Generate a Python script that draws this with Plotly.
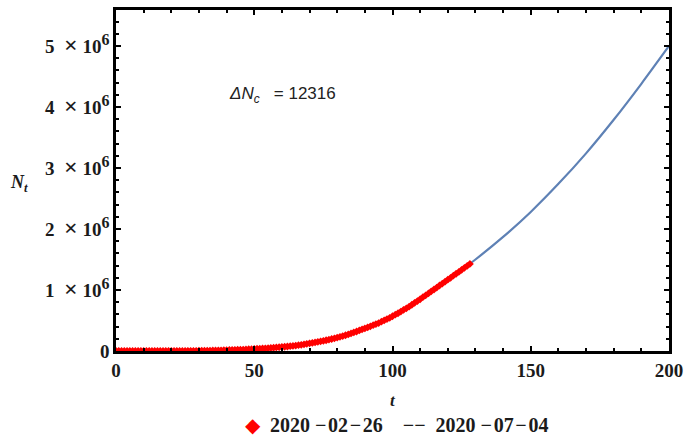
import plotly.graph_objects as go

# Observed data (days since 2020-02-26, cumulative cases)
t_data = list(range(0, 129))
n_data = [
    1, 1, 1, 2, 2, 2, 2, 3, 8, 13,
    19, 25, 30, 40, 50, 100, 120, 200, 230, 300,
    500, 600, 900, 1100, 1500, 1900, 2200, 2400, 2900, 3400,
    3900, 4300, 4600, 5700, 6800, 7900, 9100, 10300, 11200, 12200,
    14000, 16000, 18000, 19600, 20700, 22000, 23400, 25300, 28300, 30400,
    33700, 36600, 38600, 40600, 43100, 45800, 50000, 52900, 58500, 61900,
    66000, 70000, 74000, 79000, 84000, 89000, 95000, 102000, 109000, 117000,
    125000, 133000, 141000, 150000, 158000, 167000, 176000, 186000, 197000, 208000,
    220000, 232000, 245000, 258000, 272000, 288000, 304000, 320000, 338000, 355000,
    370000, 387000, 404000, 424000, 441000, 458000, 480000, 503000, 523000, 544000,
    570000, 596000, 619000, 646000, 675000, 700000, 727000, 758000, 790000, 818000,
    848000, 882000, 912000, 944000, 978000, 1008000, 1040000, 1074000, 1104000, 1136000,
    1170000, 1200000, 1234000, 1266000, 1296000, 1331000, 1364000, 1395000, 1428000,
]

# Fitted model curve
t_fit = [0, 10, 20, 30, 40, 50, 60, 70, 80, 90, 100, 110, 120, 130, 140, 150, 160, 170, 180, 190, 200]
n_fit = [0, 0, 1000, 4000, 12000, 30000, 65000, 125000, 220000, 370000, 570000, 850000,
         1160000, 1500000, 1870000, 2280000, 2740000, 3240000, 3790000, 4380000, 5000000]

y_tickvals = [0, 1e6, 2e6, 3e6, 4e6, 5e6]
y_mant = ["0", "1", "2", "3", "4", "5"]
x_tickvals = [0, 50, 100, 150, 200]
x_ticktext = ["<b>0</b>", "<b>50</b>", "<b>100</b>", "<b>150</b>", "<b>200</b>"]

legend_text = "2020 −&#8202;02&#8202;−&#8202;26&nbsp;&nbsp;&nbsp; −−&nbsp; 2020 −&#8202;07&#8202;−&#8202;04"
annot_text = "<i>ΔN</i><sub><i>c</i></sub> &nbsp;&nbsp;= 12316"

serif = "Liberation Serif"
tick_font = dict(family=serif, size=19, color="#1b1b1b")


def sci_label(m):
    if m == "0":
        return "<b>0</b>"
    return ("<b>" + m + "&nbsp;&nbsp;<span style='font-size:24px;font-weight:bold'>×</span>&nbsp;10</b>"
            "<sup><span style='font-size:16px;font-weight:bold'>6</span></sup>")


y_ticktext = [sci_label(m) for m in y_mant]

fig = go.Figure()
fig.add_trace(go.Scatter(x=t_fit, y=n_fit, mode="lines",
                         line=dict(color="#5E81B5", width=2.2, shape="spline", smoothing=0.8),
                         showlegend=False, hoverinfo="skip"))
fig.add_trace(go.Scatter(x=t_data, y=n_data, mode="markers",
                         marker=dict(symbol="diamond", size=6, color="#ff0000", line=dict(width=0)),
                         showlegend=False))

axis_common = dict(showline=True, linewidth=2.5, linecolor="black", mirror="ticks",
                   ticks="inside", ticklen=5, tickwidth=2, tickcolor="black", automargin=False,
                   showgrid=False, zeroline=False, tickfont=tick_font)

fig.update_xaxes(range=[0, 200], tickmode="array", tickvals=x_tickvals, ticktext=x_ticktext,
                 minor=dict(ticks="inside", dtick=10, ticklen=3, tickwidth=1.5, tickcolor="black"),
                 **axis_common)
fig.update_yaxes(range=[0, 5.59e6], tickmode="array", tickvals=y_tickvals, ticktext=y_ticktext,
                 minor=dict(ticks="inside", dtick=2e5, ticklen=3, tickwidth=1.5, tickcolor="black"),
                 **axis_common)

fig.add_annotation(text="<b><i>N</i></b><sub><b><i>t</i></b></sub>", xref="paper", yref="paper",
                   x=-0.175, y=0.49, xanchor="center", yanchor="middle", showarrow=False,
                   font=dict(family=serif, size=18, color="#1b1b1b"))
fig.add_annotation(text="<b><i>t</i></b>", xref="paper", yref="paper", x=0.5, y=-0.144,
                   xanchor="center", yanchor="middle",
                   showarrow=False, font=dict(family=serif, size=17, color="#1b1b1b"))
fig.add_annotation(text="<span style='color:#ff0000'>◆</span> &nbsp;<b>" + legend_text + "</b>",
                   xref="paper", yref="paper", x=0.507, y=-0.217, xanchor="center", yanchor="middle",
                   showarrow=False, font=dict(family=serif, size=20, color="#1b1b1b"))
fig.add_annotation(text=annot_text, xref="paper", yref="paper", x=0.2, y=0.751,
                   xanchor="left", yanchor="middle",
                   showarrow=False, font=dict(family="Liberation Sans", size=17, color="#222"))

fig.update_layout(width=687, height=441, margin=dict(l=116, r=18, t=10, b=90),
                  plot_bgcolor="white", paper_bgcolor="white")
fig.write_html("out.html", config={"displayModeBar": False},
               post_script="document.body.style.margin='0';")
